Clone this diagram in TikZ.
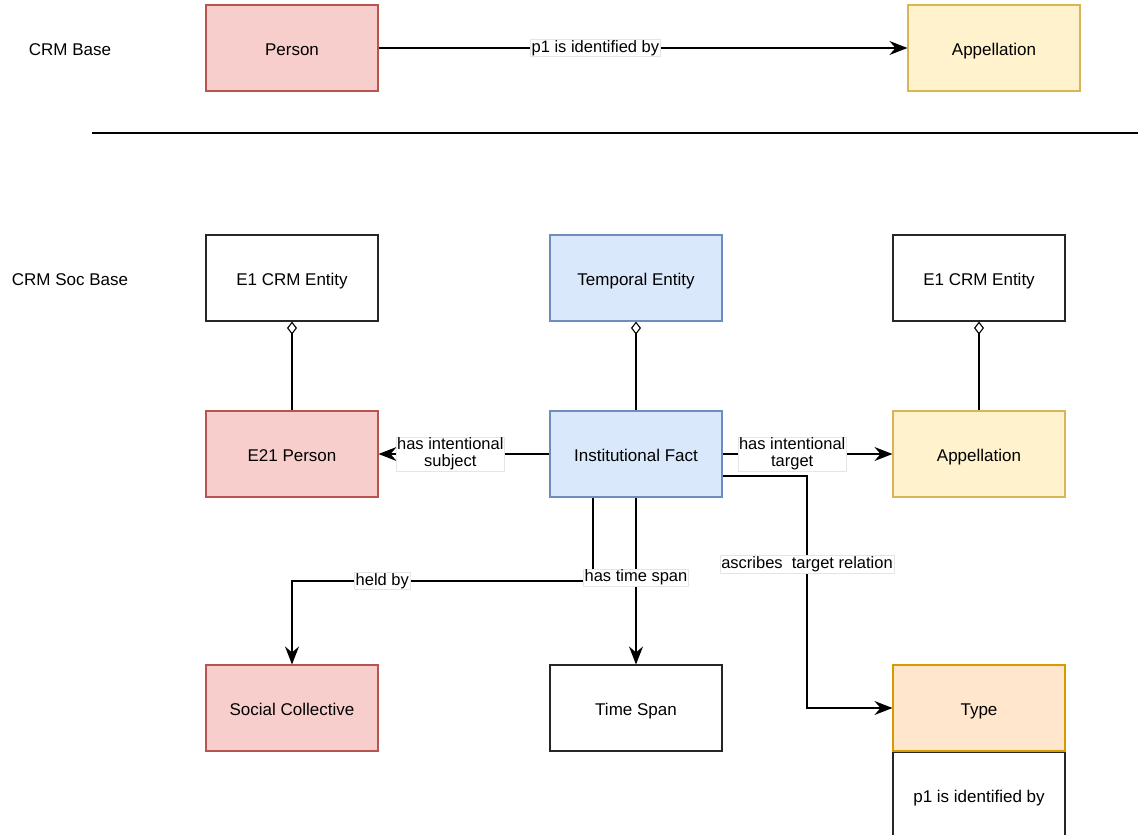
\documentclass[tikz,border=0pt]{standalone}
\usepackage{fontspec}
\setmainfont{Liberation Sans}
\usepackage{xcolor}
\usepackage{tikz}
\usetikzlibrary{positioning,calc,arrows.meta}

\definecolor{redfill}{HTML}{F8CECC}
\definecolor{redline}{HTML}{B85450}
\definecolor{bluefill}{HTML}{DAE8FC}
\definecolor{blueline}{HTML}{6C8EBF}
\definecolor{yelfill}{HTML}{FFF2CC}
\definecolor{yelline}{HTML}{D6B656}
\definecolor{orfill}{HTML}{FFE6CC}
\definecolor{orline}{HTML}{D79B00}

\tikzset{
	cls/.style={draw=black!85, fill=white, line width=1.1pt, minimum width=172pt, minimum height=86pt, inner sep=0pt, text height=17pt, text depth=3pt, font=\fontsize{17}{20}\selectfont},
	redcls/.style={cls, draw=redline, fill=redfill},
	bluecls/.style={cls, draw=blueline, fill=bluefill},
	yelcls/.style={cls, draw=yelline, fill=yelfill},
	orcls/.style={cls, draw=orline, fill=orfill},
	arr/.style={line width=1.3pt, -{Stealth[length=18pt,width=14pt,inset=6pt]}},
	agg/.style={line width=1.3pt, {Diamond[open,length=13pt,width=10pt,line width=1.1pt]}-},
	lbl/.style={fill=white, draw=black!10, line width=0.5pt, inner sep=1pt, align=center, font=\fontsize{16.5}{17}\selectfont},
	lvl/.style={font=\fontsize{17}{20}\selectfont}
}

\begin{document}
\begin{tikzpicture}[x=1pt,y=-1pt]
	\useasboundingbox (0,0) rectangle (1138,835);
	
	% CRM base
	\node[lvl] (base) at (70,50) {CRM Base};
	\node[redcls] (person) at (292,48) {Person};
	\node[yelcls] (appa) at (994,48) {Appellation};
	\draw[arr] (person.east) -- node[lbl,pos=0.41] {p1 is identified by} (appa.west);
	
	% trennlinie
	\coordinate (sepl) at (92,133);
	\coordinate (sepr) at (1138,133);
	\draw[line width=1.1pt] (sepl) -- (sepr);
	
	% CRM Soc base
	\node[lvl] (soc) at (70,280) {CRM Soc Base};
	\node[cls] (e1a) at (292,278) {E1 CRM Entity};
	\node[bluecls] (temp) at (636,278) {Temporal Entity};
	\node[cls] (e1b) at (979,278) {E1 CRM Entity};
	
	\node[redcls] (e21) at (292,454) {E21 Person};
	\node[bluecls] (inst) at (636,454) {Institutional Fact};
	\node[yelcls] (appb) at (979,454) {Appellation};
	
	\node[redcls] (coll) at (292,708) {Social Collective};
	\node[cls] (tspan) at (636,708) {Time Span};
	\node[orcls] (type) at (979,708) {Type};
	\node[cls, below=0pt of type] (typep) {p1 is identified by};
	
	% vererbung
	\draw[agg] (e1a.south) -- (e21.north);
	\draw[agg] (temp.south) -- (inst.north);
	\draw[agg] (e1b.south) -- (appb.north);
	
	% relationen
	\draw[arr] (inst.west) -- node[lbl,pos=0.58] {has intentional\\subject} (e21.east);
	\draw[arr] (inst.east) -- node[lbl,pos=0.41] {has intentional\\target} (appb.west);
	
	\coordinate (held) at (593,581);
	\draw[arr] ([xshift=-43pt]inst.south) -- (held) -| node[lbl,pos=0.35] {held by} (coll.north);
	\draw[arr] (inst.south) -- node[lbl,pos=0.48] {has time span} (tspan.north);
	
	\coordinate (ascr) at (807,476);
	\draw[arr] ([yshift=-22pt]inst.east) -- (ascr) |- node[lbl,pos=0.19] {ascribes\ \ target relation} (type.west);
\end{tikzpicture}
\end{document}
